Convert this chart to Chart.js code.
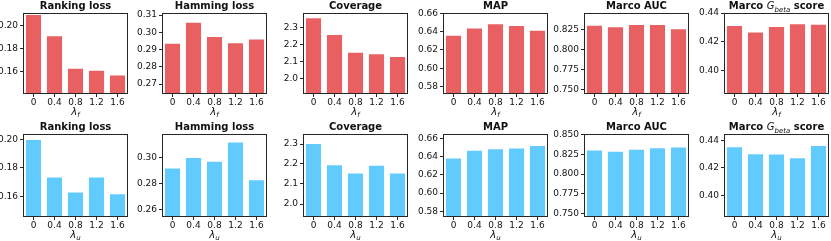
<!DOCTYPE html>
<html>
<head>
<meta charset="utf-8">
<script src="https://cdn.jsdelivr.net/npm/chart.js@4"></script>
<style>
  html, body { margin: 0; padding: 0; background: #fff; overflow: hidden; }
  #wrap { position: relative; width: 831px; height: 241px; }
  #wrap canvas { position: absolute; }
</style>
</head>
<body>
<div id="wrap"></div>
<script>
// categories (lambda values)
const lambdaLabels = ['0', '0.4', '0.8', '1.2', '1.6'];

// top row: lambda_f (red)
const rankingF = [0.209, 0.1906, 0.1624, 0.1606, 0.1565];
const hammingF = [0.2933, 0.3056, 0.2973, 0.2936, 0.2958];
const coverageF = [2.353, 2.256, 2.153, 2.143, 2.128];
const mapF = [0.6356, 0.6435, 0.6481, 0.6463, 0.641];
const aucF = [0.830, 0.828, 0.831, 0.831, 0.8254];
const gbetaF = [0.431, 0.4265, 0.4303, 0.4322, 0.432];

// bottom row: lambda_u (blue)
const rankingU = [0.1995, 0.1733, 0.1628, 0.1733, 0.1616];
const hammingU = [0.2918, 0.2998, 0.2969, 0.3119, 0.2826];
const coverageU = [2.30, 2.194, 2.153, 2.191, 2.152];
const mapU = [0.638, 0.6464, 0.648, 0.6487, 0.6515];
const aucU = [0.830, 0.8283, 0.8309, 0.8329, 0.8338];
const gbetaU = [0.4349, 0.430, 0.4298, 0.4271, 0.4359];

// y axis limits
const yMinF = [0.1404, 0.2642, 1.912, 0.5718, 0.744, 0.3837];
const yMaxF = [0.2108, 0.3112, 2.384, 0.6605, 0.846, 0.4401];
const yMinU = [0.1457, 0.2543, 1.935, 0.5738, 0.7453, 0.3844];
const yMaxU = [0.2037, 0.3184, 2.35, 0.6647, 0.851, 0.4446];

// y tick labels
const yTicksF = [
  [0.16, 0.18, 0.20], [0.27, 0.28, 0.29, 0.30, 0.31], [2.0, 2.1, 2.2, 2.3],
  [0.58, 0.60, 0.62, 0.64, 0.66], [0.750, 0.775, 0.800, 0.825], [0.40, 0.42, 0.44]
];
const yTicksU = [
  [0.16, 0.18, 0.20], [0.26, 0.28, 0.30], [2.0, 2.1, 2.2, 2.3],
  [0.58, 0.60, 0.62, 0.64, 0.66], [0.750, 0.775, 0.800, 0.825, 0.850], [0.40, 0.42, 0.44]
];
const tickDecimals = [2, 2, 1, 2, 3, 2];

// titles, as text segments (G_beta is math italic with subscript)
const titles = [
  [{ t: 'Ranking loss', w: 'bold' }],
  [{ t: 'Hamming loss', w: 'bold' }],
  [{ t: 'Coverage', w: 'bold' }],
  [{ t: 'MAP', w: 'bold' }],
  [{ t: 'Marco AUC', w: 'bold' }],
  [{ t: 'Marco ', w: 'bold' }, { t: 'G', w: 'italic' }, { t: 'beta', w: 'italic', sub: true }, { t: ' score', w: 'bold' }]
];
const xLabelF = [{ t: 'λ', w: 'italic' }, { t: 'f', w: 'italic', sub: true }];
const xLabelU = [{ t: 'λ', w: 'italic' }, { t: 'u', w: 'italic', sub: true }];

const seriesF = [rankingF, hammingF, coverageF, mapF, aucF, gbetaF];
const seriesU = [rankingU, hammingU, coverageU, mapU, aucU, gbetaU];

const RED = '#e96062';
const BLUE = '#62cbfe';
const FONT = "'DejaVu Sans', sans-serif";

// layout
const colLeft = [23, 162, 303, 443, 584, 724];
const plotW = 105;
const yAxisW = 40;
const rows = [
  { top: 0, padTop: 13, plotH: 81, canvasH: 120 },
  { top: 120, padTop: 14, plotH: 83, canvasH: 121 }
];

function drawRich(ctx, segs, cx, baseline, size) {
  const parts = segs.map(s => {
    const sz = s.sub ? Math.round(size * 0.7) : size;
    const font = (s.w === 'bold' ? 'bold ' : s.w === 'italic' ? 'italic ' : '') + sz + 'px ' + FONT;
    ctx.font = font;
    return { t: s.t, font, w: ctx.measureText(s.t).width, dy: s.sub ? 2.5 : 0 };
  });
  const total = parts.reduce((a, p) => a + p.w, 0);
  let x = cx - total / 2;
  ctx.textAlign = 'left';
  ctx.textBaseline = 'alphabetic';
  parts.forEach(p => {
    ctx.font = p.font;
    ctx.fillText(p.t, x, baseline + p.dy);
    x += p.w;
  });
}

const framePlugin = {
  id: 'frameAndLabels',
  afterDraw(chart, args, opts) {
    const ctx = chart.ctx, a = chart.chartArea;
    ctx.save();
    ctx.strokeStyle = '#262626';
    ctx.lineWidth = 1;
    ctx.strokeRect(Math.round(a.left) + 0.5, Math.round(a.top) + 0.5,
      Math.round(a.right - a.left) - 1, Math.round(a.bottom - a.top) - 1);
    ctx.fillStyle = '#111';
    drawRich(ctx, opts.title, (a.left + a.right) / 2, a.top - 4, 10);
    drawRich(ctx, opts.xlabel, (a.left + a.right) / 2, a.bottom + 20.5, 10);
    ctx.restore();
  }
};

function makeChart(r, c) {
  const row = rows[r];
  const data = r === 0 ? seriesF[c] : seriesU[c];
  const ticks = r === 0 ? yTicksF[c] : yTicksU[c];
  const yMin = r === 0 ? yMinF[c] : yMinU[c];
  const yMax = r === 0 ? yMaxF[c] : yMaxU[c];

  const canvas = document.createElement('canvas');
  const w = yAxisW + plotW + 6;
  canvas.width = w;
  canvas.height = row.canvasH;
  canvas.style.width = w + 'px';
  canvas.style.height = row.canvasH + 'px';
  canvas.style.left = (colLeft[c] - yAxisW) + 'px';
  canvas.style.top = row.top + 'px';
  document.getElementById('wrap').appendChild(canvas);

  const gridOpts = { display: true, drawOnChartArea: false, drawTicks: true, tickLength: 3, color: '#262626' };

  new Chart(canvas.getContext('2d'), {
    type: 'bar',
    data: {
      labels: lambdaLabels,
      datasets: [{
        data: data,
        backgroundColor: r === 0 ? RED : BLUE,
        borderWidth: 0,
        categoryPercentage: 1,
        barPercentage: 0.72
      }]
    },
    options: {
      responsive: false,
      animation: false,
      devicePixelRatio: 1,
      layout: { padding: { top: row.padTop, right: 6, left: 0, bottom: 0 } },
      plugins: {
        legend: { display: false },
        tooltip: { enabled: false },
        frameAndLabels: { title: titles[c], xlabel: r === 0 ? xLabelF : xLabelU }
      },
      scales: {
        x: {
          offset: true,
          grid: Object.assign({}, gridOpts, { offset: false }),
          border: { display: false },
          ticks: { font: { family: FONT, size: 9 }, color: '#111', padding: 0, maxRotation: 0, autoSkip: false },
          afterFit: s => { s.height = row.canvasH - row.padTop - row.plotH; }
        },
        y: {
          min: yMin,
          max: yMax,
          grid: gridOpts,
          border: { display: false },
          ticks: {
            font: { family: FONT, size: 9 }, color: '#111', padding: 2,
            callback: v => Number(v).toFixed(tickDecimals[c])
          },
          afterBuildTicks: s => { s.ticks = ticks.map(v => ({ value: v })); },
          afterFit: s => { s.width = yAxisW; }
        }
      }
    },
    plugins: [framePlugin]
  });
}

for (let r = 0; r < 2; r++) {
  for (let c = 0; c < 6; c++) makeChart(r, c);
}
</script>
</body>
</html>
